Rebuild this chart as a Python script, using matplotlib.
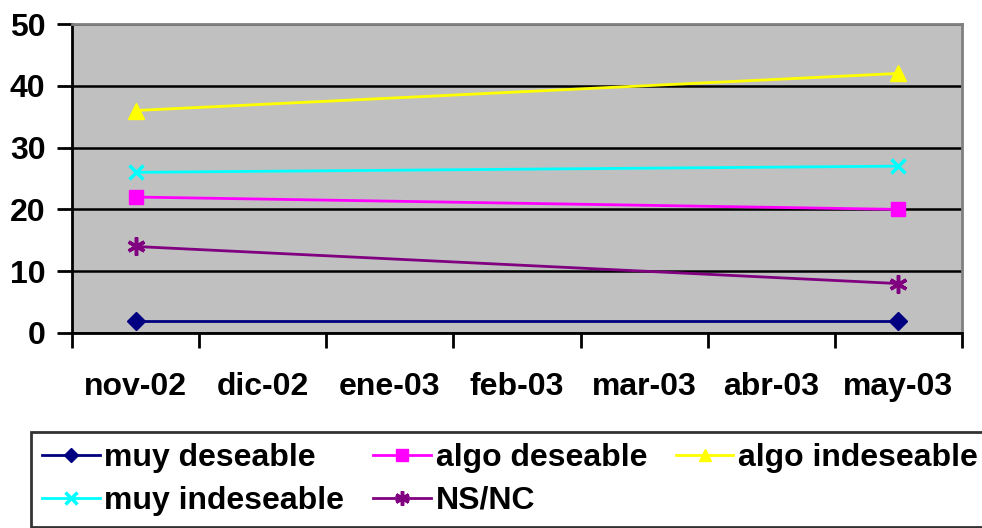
import matplotlib
matplotlib.use("Agg")
import matplotlib.pyplot as plt
import numpy as np

plt.rcParams['font.family'] = ['Liberation Sans', 'DejaVu Sans']
plt.rcParams['font.weight'] = 'bold'

months = ["nov-02", "dic-02", "ene-03", "feb-03", "mar-03", "abr-03", "may-03"]
# only the first and last month have data
data_idx = [0, 6]
muy_deseable = [2, 2]
algo_deseable = [22, 20]
algo_indeseable = [36, 42]
muy_indeseable = [26, 27]
ns_nc = [14, 8]

series = [
    ("muy deseable", muy_deseable, "#000080", "D", 9),
    ("algo deseable", algo_deseable, "#FF00FF", "s", 10),
    ("algo indeseable", algo_indeseable, "#FFFF00", "^", 11),
    ("muy indeseable", muy_indeseable, "#00FFFF", "x", 10),
    ("NS/NC", ns_nc, "#800080", (6, 2, 0), 13),
]

fig = plt.figure(figsize=(9.82, 5.28), dpi=100)
ax = fig.add_axes([72/982, 1-333/528, 890/982, 309/528])
ax.set_facecolor("#C0C0C0")

handles = {}
for name, vals, col, mk, ms in series:
    h, = ax.plot(data_idx, vals, color=col, lw=2, marker=mk, ms=ms,
                 mew=2.5 if name in ("muy indeseable", "NS/NC") else 1,
                 mec=col, mfc=col, label=name)
    handles[name] = h

ax.set_xlim(-0.5, 6.5)
ax.set_ylim(0, 50)
ax.set_yticks([0, 10, 20, 30, 40, 50])
ax.yaxis.grid(True, color="black", lw=1.8)
ax.set_axisbelow(True)

ax.set_xticks(np.arange(-0.5, 7, 1))
ax.set_xticklabels([])
ax.set_xticks(np.arange(len(months)), minor=True)
ax.set_xticklabels(months, minor=True)
ax.tick_params(axis="x", which="major", direction="out", length=11, width=2)
ax.tick_params(axis="x", which="minor", length=0, pad=28, labelsize=23)
ax.tick_params(axis="y", direction="out", length=11, width=2, pad=8, labelsize=23)

for s in ["left", "bottom"]:
    ax.spines[s].set_color("black")
    ax.spines[s].set_linewidth(2)
for s in ["top", "right"]:
    ax.spines[s].set_color("#808080")
    ax.spines[s].set_linewidth(2)

# legend filled column-wise, so order to read row by row
order = ["muy deseable", "muy indeseable", "algo deseable", "NS/NC", "algo indeseable"]
leg = fig.legend(handles=[handles[n] for n in order], loc="upper left",
                 bbox_to_anchor=(31/982, 1-432/528),
                 ncol=3, fontsize=23, frameon=True, fancybox=False, edgecolor="black",
                 handlelength=1.8, handletextpad=0.15, columnspacing=0.9,
                 borderpad=0.35, labelspacing=0.4, borderaxespad=0, markerscale=0.8)
leg.get_frame().set_linewidth(2)

fig.savefig("out.png", dpi=100)
